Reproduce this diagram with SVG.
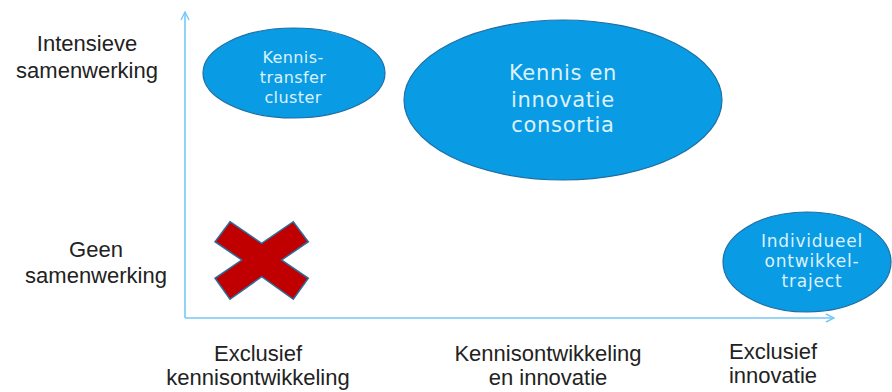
<svg xmlns="http://www.w3.org/2000/svg" width="892" height="392" viewBox="0 0 892 392">
<style>
.lbl{font-family:"Liberation Sans",Arial,sans-serif;font-size:22px;fill:#222;text-anchor:middle}
.ell{fill:#0a9be5;stroke:#1f6fa3;stroke-width:1.2}
.et{font-family:"DejaVu Sans",Verdana,sans-serif;fill:#dcf1fc;text-anchor:middle}
.axis{stroke:#74c9f5;stroke-width:1.6;fill:none}
</style>
<defs>
<marker id="arr" viewBox="0 0 10 10" refX="9" refY="5" markerWidth="10" markerHeight="10" markerUnits="userSpaceOnUse" orient="auto">
<path d="M1,1 L9,5 L1,9" fill="none" stroke="#74c9f5" stroke-width="1.4"/>
</marker>
</defs>
<rect width="892" height="392" fill="#fff"/>
<g id="connectors">
<line class="axis" x1="185" y1="318" x2="185" y2="12" marker-end="url(#arr)"/>
<line class="axis" x1="185" y1="318" x2="834" y2="318" marker-end="url(#arr)"/>
</g>
<g id="y-labels">
<text class="lbl" x="87" y="51">Intensieve</text>
<text class="lbl" x="87" y="78">samenwerking</text>
<text class="lbl" x="96" y="257">Geen</text>
<text class="lbl" x="96" y="283">samenwerking</text>
</g>
<g id="x-labels">
<text class="lbl" x="258" y="361">Exclusief</text>
<text class="lbl" x="258" y="385">kennisontwikkeling</text>
<text class="lbl" x="548" y="361">Kennisontwikkeling</text>
<text class="lbl" x="548" y="385">en innovatie</text>
<text class="lbl" x="773" y="359">Exclusief</text>
<text class="lbl" x="773" y="383">innovatie</text>
</g>
<g id="kennistransfer">
<ellipse class="ell" cx="294" cy="73" rx="91" ry="45"/>
<text class="et" font-size="16" letter-spacing="0.4" x="293" y="63">Kennis-</text>
<text class="et" font-size="16" letter-spacing="0.4" x="293" y="83">transfer</text>
<text class="et" font-size="16" letter-spacing="0.4" x="293" y="103">cluster</text>
</g>
<g id="consortia">
<ellipse class="ell" cx="563" cy="100" rx="159" ry="80"/>
<text class="et" font-size="21" letter-spacing="0.7" x="563" y="80">Kennis en</text>
<text class="et" font-size="21" letter-spacing="0.7" x="563" y="107">innovatie</text>
<text class="et" font-size="21" letter-spacing="0.7" x="563" y="132">consortia</text>
</g>
<g id="individueel">
<ellipse class="ell" cx="807" cy="262" rx="84" ry="50"/>
<text class="et" font-size="17" letter-spacing="0.8" x="812" y="247">Individueel</text>
<text class="et" font-size="17" letter-spacing="0.8" x="812" y="267">ontwikkel-</text>
<text class="et" font-size="17" letter-spacing="0.8" x="812" y="287">traject</text>
</g>
<g id="cross">
<polygon points="230,221.7 261.7,243.3 293.3,221.7 308.3,241.7 281.7,260 308.3,278.3 293.3,299.3 261.7,276.7 230,299.3 215,278.3 241.7,260 215,241.7" fill="#c00000" stroke="#2a6f9f" stroke-width="1.5" stroke-linejoin="miter"/>
</g>
</svg>
